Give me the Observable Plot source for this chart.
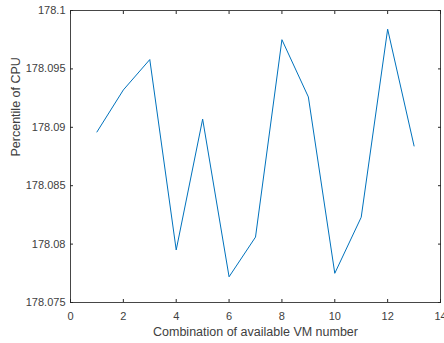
<!DOCTYPE html>
<html>
<head>
<meta charset="utf-8">
<script src="https://cdn.jsdelivr.net/npm/d3@7"></script>
<script src="https://cdn.jsdelivr.net/npm/@observablehq/plot@0.6"></script>
<style>
  html, body { margin: 0; padding: 0; background: #fff; }
  #chart svg { display: block; }
</style>
</head>
<body>
<div id="chart"></div>
<script>
const combos = [1, 2, 3, 4, 5, 6, 7, 8, 9, 10, 11, 12, 13];
const cpuPercentile = [178.0896, 178.0932, 178.0958, 178.0795, 178.0907, 178.0772, 178.0806, 178.0975, 178.0926, 178.0775, 178.0823, 178.0984, 178.0884];
const xTicks = [0, 2, 4, 6, 8, 10, 12, 14];
const yTicks = [178.075, 178.08, 178.085, 178.09, 178.095, 178.1];
const xLabel = "Combination of available VM number";
const yLabel = "Percentile of CPU";

const data = combos.map((c, i) => ({x: c, y: cpuPercentile[i]}));
const axisColor = "#262626";
const textColor = "#404040";
const fmtY = d => String(+d.toFixed(3));

const chart = Plot.plot({
  width: 444,
  height: 343,
  marginLeft: 70,
  marginRight: 4,
  marginTop: 10,
  marginBottom: 41,
  style: {fontFamily: "'Liberation Sans', Arial, sans-serif", fontSize: "11px", color: textColor, background: "#fff"},
  x: {domain: [0, 14]},
  y: {domain: [178.075, 178.1]},
  marks: [
    Plot.frame({stroke: axisColor, strokeOpacity: 0.85}),
    // tick labels
    Plot.axisX({ticks: xTicks, tickSize: 0, tickPadding: 10, tickFormat: d => String(d), label: null, fill: textColor}),
    Plot.axisY({ticks: yTicks, tickSize: 0, tickPadding: 5, tickFormat: fmtY, label: null, fill: textColor}),
    // inward ticks on all four sides
    Plot.axisX({ticks: xTicks, anchor: "bottom", tickSize: 3, dy: -3, text: null, label: null, stroke: axisColor}),
    Plot.axisX({ticks: xTicks, anchor: "top", tickSize: 3, dy: 3, text: null, label: null, stroke: axisColor}),
    Plot.axisY({ticks: yTicks, anchor: "left", tickSize: 3, dx: 3, text: null, label: null, stroke: axisColor}),
    Plot.axisY({ticks: yTicks, anchor: "right", tickSize: 3, dx: -3, text: null, label: null, stroke: axisColor}),
    // axis titles
    Plot.text([xLabel], {text: d => d, frameAnchor: "bottom", dy: 33, fontSize: 12.5, fill: textColor}),
    Plot.text([yLabel], {text: d => d, frameAnchor: "left", dx: -55, rotate: -90, fontSize: 12.5, fill: textColor}),
    // data line
    Plot.line(data, {x: "x", y: "y", stroke: "#0072BD", strokeWidth: 1})
  ]
});
document.getElementById("chart").appendChild(chart);
</script>
</body>
</html>
